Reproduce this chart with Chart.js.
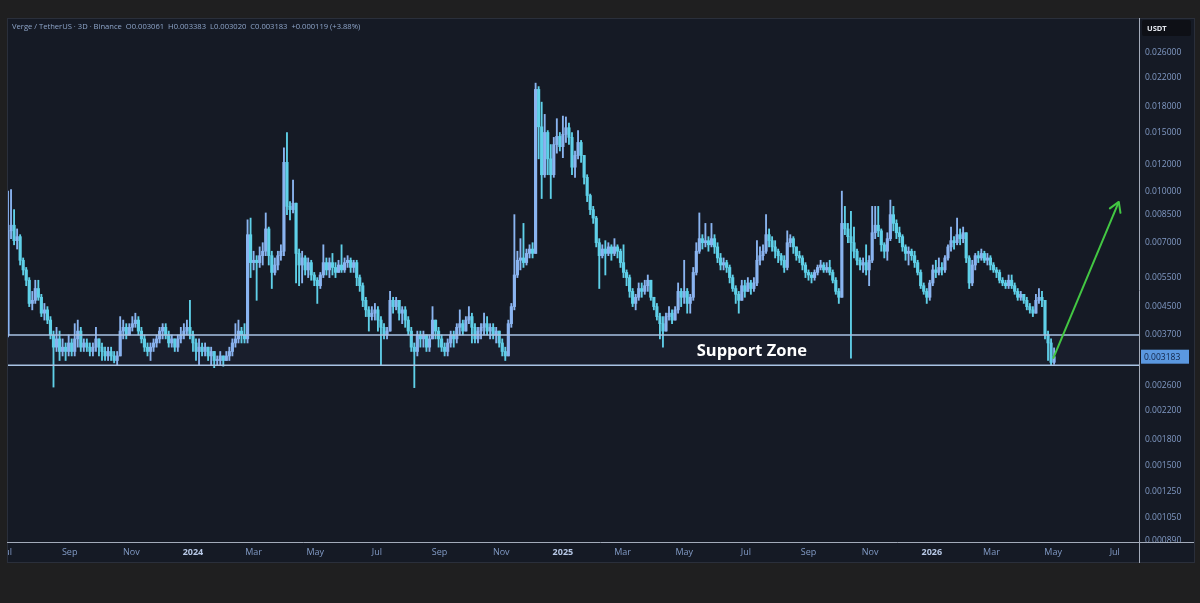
<!DOCTYPE html>
<html>
<head>
<meta charset="utf-8">
<script src="https://cdn.jsdelivr.net/npm/chart.js@4.4.1/dist/chart.umd.min.js"></script>
<style>
  html, body { margin: 0; padding: 0; background: #1f1f20; }
  canvas { display: block; }
</style>
</head>
<body>
<canvas id="chart" width="1200" height="603"></canvas>
<script>
// XVG/USDT 3D candles, days counted from 1 Jul 2023
const startDay = 1;
const candleDays = 3;
const firstOpen = 0.0037;

const closes = [
  0.0076, 0.0079, 0.0071, 0.0073, 0.0062, 0.0058, 0.0054, 0.0046, 0.0047, 0.0051,
  0.0048, 0.0043, 0.0044, 0.0041, 0.0037, 0.0034, 0.0036, 0.0033, 0.0034, 0.0033,
  0.0035, 0.0033, 0.0036, 0.0038, 0.0034, 0.0035, 0.0034, 0.0033, 0.0034, 0.0036,
  0.0034, 0.0033, 0.0032, 0.0033, 0.0032, 0.0031, 0.0032, 0.0038, 0.0039, 0.0037,
  0.0039, 0.0040, 0.0041, 0.0038, 0.0036, 0.0034, 0.0033, 0.0034, 0.0035, 0.0036,
  0.0038, 0.0039, 0.0037, 0.0035, 0.0036, 0.0034, 0.0036, 0.0037, 0.0038, 0.0039,
  0.0037, 0.0035, 0.0033, 0.0034, 0.0033, 0.0034, 0.0032, 0.0033, 0.0031, 0.0031,
  0.0032, 0.0031, 0.0032, 0.0033, 0.0035, 0.0036, 0.0038, 0.0037, 0.0036, 0.0074,
  0.0061, 0.0062, 0.0061, 0.0064, 0.0066, 0.0077, 0.0064, 0.0057, 0.0060, 0.0064,
  0.0066, 0.0122, 0.0090, 0.0088, 0.0092, 0.0065, 0.0060, 0.0063, 0.0058, 0.0061,
  0.0056, 0.0054, 0.0052, 0.0056, 0.0061, 0.0058, 0.0061, 0.0059, 0.0057, 0.0060,
  0.0058, 0.0061, 0.0062, 0.0059, 0.0061, 0.0055, 0.0052, 0.0047, 0.0044, 0.0042,
  0.0043, 0.0044, 0.0041, 0.0039, 0.0037, 0.0038, 0.0047, 0.0045, 0.0047, 0.0043,
  0.0044, 0.0041, 0.0038, 0.0034, 0.0033, 0.0037, 0.0036, 0.0037, 0.0034, 0.0036,
  0.0041, 0.0038, 0.0036, 0.0034, 0.0033, 0.0035, 0.0037, 0.0036, 0.0039, 0.0040,
  0.0038, 0.0041, 0.0042, 0.0039, 0.0036, 0.0038, 0.0039, 0.0040, 0.0038, 0.0039,
  0.0037, 0.0038, 0.0035, 0.0033, 0.0032, 0.0040, 0.0045, 0.0056, 0.0062, 0.0063,
  0.0061, 0.0065, 0.0067, 0.0065, 0.0202, 0.0156, 0.0112, 0.0150, 0.0125, 0.0112,
  0.0138, 0.0146, 0.0136, 0.0148, 0.0155, 0.0145, 0.0118, 0.0128, 0.0140, 0.0128,
  0.0110, 0.0097, 0.0088, 0.0083, 0.0070, 0.0064, 0.0067, 0.0065, 0.0068, 0.0065,
  0.0068, 0.0066, 0.0061, 0.0057, 0.0055, 0.0050, 0.0046, 0.0048, 0.0051, 0.0050,
  0.0052, 0.0054, 0.0048, 0.0045, 0.0042, 0.0040, 0.0038, 0.0042, 0.0043, 0.0041,
  0.0044, 0.0050, 0.0048, 0.0050, 0.0046, 0.0048, 0.0057, 0.0066, 0.0072, 0.0070,
  0.0071, 0.0069, 0.0072, 0.0068, 0.0063, 0.0060, 0.0061, 0.0059, 0.0055, 0.0051,
  0.0049, 0.0047, 0.0052, 0.0050, 0.0053, 0.0051, 0.0053, 0.0062, 0.0064, 0.0066,
  0.0074, 0.0071, 0.0068, 0.0066, 0.0064, 0.0062, 0.0059, 0.0070, 0.0072, 0.0068,
  0.0064, 0.0063, 0.0060, 0.0057, 0.0056, 0.0055, 0.0057, 0.0059, 0.0060, 0.0058,
  0.0059, 0.0057, 0.0054, 0.0050, 0.0048, 0.0080, 0.0077, 0.0073, 0.0070, 0.0066,
  0.0062, 0.0060, 0.0061, 0.0058, 0.0062, 0.0075, 0.0079, 0.0076, 0.0069, 0.0066,
  0.0072, 0.0085, 0.0080, 0.0075, 0.0073, 0.0068, 0.0065, 0.0066, 0.0064, 0.0061,
  0.0057, 0.0052, 0.0050, 0.0048, 0.0053, 0.0058, 0.0057, 0.0059, 0.0058, 0.0063,
  0.0068, 0.0071, 0.0070, 0.0074, 0.0072, 0.0075, 0.0063, 0.0053, 0.0060, 0.0064,
  0.0063, 0.0065, 0.0062, 0.0063, 0.0060, 0.0058, 0.0057, 0.0054, 0.0053, 0.0052,
  0.0054, 0.0052, 0.0050, 0.0048, 0.0049, 0.0047, 0.0045, 0.0044, 0.0043, 0.0047,
  0.0048, 0.0047, 0.0037, 0.0035, 0.003061, 0.003183
];

const highs = [
  0.0100, 0.0101, 0.0088, 0.0077, 0.0074, 0.0063, 0.0059, 0.0055, 0.0050, 0.0054,
  0.0054, 0.0049, 0.0046, 0.0045, 0.0042, 0.0038, 0.0039, 0.0038, 0.0036, 0.0035,
  0.0037, 0.0036, 0.0040, 0.0041, 0.0039, 0.0036, 0.0036, 0.0035, 0.0035, 0.0039,
  0.0036, 0.0035, 0.0034, 0.0034, 0.0034, 0.0033, 0.0033, 0.0042, 0.0041, 0.0040,
  0.0040, 0.0042, 0.0043, 0.0042, 0.0039, 0.0037, 0.0035, 0.0035, 0.0036, 0.0037,
  0.0039, 0.0040, 0.0040, 0.0038, 0.0037, 0.0036, 0.0037, 0.0039, 0.0040, 0.0041,
  0.0047, 0.0038, 0.0036, 0.0036, 0.0035, 0.0035, 0.0034, 0.0034, 0.0033, 0.0032,
  0.0033, 0.0032, 0.0033, 0.0034, 0.0036, 0.0040, 0.0041, 0.0039, 0.0040, 0.0082,
  0.0083, 0.0066, 0.0064, 0.0068, 0.0070, 0.0086, 0.0078, 0.0066, 0.0063, 0.0066,
  0.0069, 0.0135, 0.0150, 0.0093, 0.0108, 0.0092, 0.0067, 0.0066, 0.0064, 0.0063,
  0.0062, 0.0057, 0.0055, 0.0057, 0.0069, 0.0063, 0.0063, 0.0065, 0.0061, 0.0062,
  0.0069, 0.0063, 0.0064, 0.0063, 0.0062, 0.0062, 0.0056, 0.0053, 0.0048, 0.0045,
  0.0045, 0.0046, 0.0045, 0.0042, 0.0040, 0.0039, 0.0050, 0.0048, 0.0048, 0.0047,
  0.0045, 0.0045, 0.0042, 0.0039, 0.0035, 0.0038, 0.0038, 0.0038, 0.0037, 0.0037,
  0.0045, 0.0041, 0.0039, 0.0037, 0.0035, 0.0036, 0.0038, 0.0038, 0.0040, 0.0044,
  0.0041, 0.0042, 0.0045, 0.0043, 0.0040, 0.0039, 0.0040, 0.0043, 0.0042, 0.0040,
  0.0040, 0.0039, 0.0038, 0.0036, 0.0034, 0.0041, 0.0046, 0.0085, 0.0066, 0.0072,
  0.0080, 0.0067, 0.0069, 0.0070, 0.0211, 0.0206, 0.0185, 0.0170, 0.0152, 0.0138,
  0.0145, 0.0165, 0.0150, 0.0168, 0.0167, 0.0160, 0.0150, 0.0132, 0.0152, 0.0142,
  0.0128, 0.0112, 0.0098, 0.0090, 0.0084, 0.0072, 0.0069, 0.0071, 0.0070, 0.0069,
  0.0072, 0.0069, 0.0067, 0.0069, 0.0058, 0.0056, 0.0051, 0.0049, 0.0053, 0.0053,
  0.0054, 0.0056, 0.0054, 0.0048, 0.0046, 0.0043, 0.0042, 0.0043, 0.0045, 0.0044,
  0.0045, 0.0053, 0.0051, 0.0062, 0.0051, 0.0049, 0.0059, 0.0070, 0.0086, 0.0074,
  0.0080, 0.0073, 0.0080, 0.0074, 0.0070, 0.0065, 0.0063, 0.0062, 0.0060, 0.0056,
  0.0052, 0.0050, 0.0054, 0.0054, 0.0055, 0.0054, 0.0055, 0.0071, 0.0068, 0.0069,
  0.0085, 0.0077, 0.0073, 0.0071, 0.0067, 0.0065, 0.0064, 0.0076, 0.0074, 0.0073,
  0.0068, 0.0066, 0.0064, 0.0061, 0.0058, 0.0057, 0.0058, 0.0060, 0.0062, 0.0061,
  0.0061, 0.0062, 0.0058, 0.0055, 0.0051, 0.0100, 0.0090, 0.0080, 0.0087, 0.0078,
  0.0067, 0.0063, 0.0063, 0.0069, 0.0064, 0.0090, 0.0090, 0.0090, 0.0077, 0.0070,
  0.0075, 0.0094, 0.0090, 0.0082, 0.0078, 0.0074, 0.0069, 0.0068, 0.0067, 0.0066,
  0.0062, 0.0058, 0.0053, 0.0051, 0.0054, 0.0060, 0.0062, 0.0063, 0.0061, 0.0064,
  0.0069, 0.0078, 0.0073, 0.0083, 0.0077, 0.0078, 0.0075, 0.0064, 0.0062, 0.0065,
  0.0066, 0.0067, 0.0066, 0.0065, 0.0064, 0.0061, 0.0059, 0.0058, 0.0055, 0.0054,
  0.0056, 0.0056, 0.0053, 0.0051, 0.0050, 0.0049, 0.0048, 0.0046, 0.0045, 0.0049,
  0.0051, 0.0050, 0.0047, 0.0038, 0.0036, 0.003383
];

const lows = [
  0.00365, 0.0072, 0.0069, 0.0067, 0.0060, 0.0056, 0.0052, 0.0045, 0.0044, 0.0046,
  0.0047, 0.0042, 0.0041, 0.0040, 0.0036, 0.00258, 0.0033, 0.0031, 0.0032, 0.0031,
  0.0032, 0.0032, 0.0032, 0.0034, 0.0033, 0.0033, 0.0033, 0.0032, 0.0032, 0.0033,
  0.0032, 0.0031, 0.0031, 0.0031, 0.0031, 0.00305, 0.0030, 0.0032, 0.0036, 0.0036,
  0.0037, 0.0038, 0.0039, 0.0037, 0.0035, 0.0033, 0.0032, 0.0031, 0.0033, 0.0034,
  0.0035, 0.0036, 0.0036, 0.0034, 0.0034, 0.0033, 0.0033, 0.0035, 0.0036, 0.0037,
  0.0036, 0.0033, 0.0031, 0.0030, 0.0032, 0.0032, 0.0031, 0.0030, 0.00295, 0.0030,
  0.0030, 0.00298, 0.0031, 0.0031, 0.0032, 0.0034, 0.0035, 0.0035, 0.0035, 0.0035,
  0.0055, 0.0058, 0.0047, 0.0059, 0.0060, 0.0064, 0.0060, 0.0051, 0.0056, 0.0058,
  0.0062, 0.0064, 0.0085, 0.0082, 0.0086, 0.0053, 0.0052, 0.0053, 0.0056, 0.0055,
  0.0054, 0.0052, 0.0046, 0.0051, 0.0055, 0.0056, 0.0055, 0.0056, 0.0055, 0.0057,
  0.0057, 0.0057, 0.0059, 0.0057, 0.0057, 0.0052, 0.0050, 0.0045, 0.0042, 0.0038,
  0.0041, 0.0041, 0.0038, 0.0030, 0.0036, 0.0036, 0.0038, 0.0043, 0.0044, 0.0041,
  0.0040, 0.0039, 0.0037, 0.0033, 0.00257, 0.0032, 0.0034, 0.0034, 0.0033, 0.0033,
  0.0036, 0.0036, 0.0034, 0.0033, 0.0032, 0.0032, 0.0034, 0.0034, 0.0035, 0.0037,
  0.0037, 0.0038, 0.0040, 0.0035, 0.0035, 0.0035, 0.0036, 0.0037, 0.0037, 0.0036,
  0.0036, 0.0035, 0.0034, 0.0032, 0.0031, 0.0032, 0.0039, 0.0044, 0.0055, 0.0058,
  0.0059, 0.0060, 0.0063, 0.0063, 0.0065, 0.0125, 0.0095, 0.0110, 0.0112, 0.0095,
  0.0110, 0.0130, 0.0132, 0.0126, 0.0140, 0.0138, 0.0112, 0.0110, 0.0125, 0.0122,
  0.0105, 0.0093, 0.0085, 0.0080, 0.0068, 0.0051, 0.0063, 0.0056, 0.0064, 0.0062,
  0.0064, 0.0063, 0.0059, 0.0055, 0.0052, 0.0048, 0.0045, 0.0044, 0.0047, 0.0048,
  0.0049, 0.0050, 0.0047, 0.0044, 0.0041, 0.0036, 0.0034, 0.0038, 0.0041, 0.0040,
  0.0041, 0.0043, 0.0045, 0.0046, 0.0043, 0.0043, 0.0047, 0.0056, 0.0065, 0.0067,
  0.0068, 0.0066, 0.0068, 0.0065, 0.0061, 0.0058, 0.0058, 0.0057, 0.0053, 0.0050,
  0.0046, 0.0043, 0.0047, 0.0048, 0.0050, 0.0049, 0.0050, 0.0052, 0.0060, 0.0062,
  0.0065, 0.0068, 0.0066, 0.0063, 0.0061, 0.0060, 0.0057, 0.0058, 0.0068, 0.0065,
  0.0062, 0.0061, 0.0058, 0.0055, 0.0054, 0.0053, 0.0054, 0.0056, 0.0058, 0.0057,
  0.0057, 0.0056, 0.0053, 0.0049, 0.0046, 0.0048, 0.0074, 0.0070, 0.00315, 0.0063,
  0.0060, 0.0058, 0.0057, 0.0056, 0.0052, 0.0061, 0.0072, 0.0073, 0.0066, 0.0063,
  0.0062, 0.0071, 0.0076, 0.0072, 0.0070, 0.0066, 0.0062, 0.0060, 0.0062, 0.0059,
  0.0056, 0.0051, 0.0049, 0.0046, 0.0047, 0.0052, 0.0055, 0.0056, 0.0056, 0.0057,
  0.0062, 0.0066, 0.0067, 0.0069, 0.0069, 0.0070, 0.0061, 0.0051, 0.0052, 0.0058,
  0.0061, 0.0062, 0.0061, 0.0060, 0.0058, 0.0057, 0.0055, 0.0053, 0.0052, 0.0051,
  0.0051, 0.0051, 0.0049, 0.0047, 0.0047, 0.0046, 0.0044, 0.0043, 0.0042, 0.0043,
  0.0046, 0.0045, 0.0036, 0.0031, 0.0030, 0.003020
];

// each candle opens at the previous close
const opens = closes.map((c, i) => (i === 0 ? firstOpen : closes[i - 1]));
const days = closes.map((c, i) => startDay + i * candleDays);

const monthDays = [0, 62, 123, 184, 244, 305, 366, 428, 489, 550, 609, 670, 731, 793, 854, 915, 974, 1035, 1096];
const monthLabels = ['Jul', 'Sep', 'Nov', '2024', 'Mar', 'May', 'Jul', 'Sep', 'Nov', '2025', 'Mar', 'May', 'Jul', 'Sep', 'Nov', '2026', 'Mar', 'May', 'Jul'];
const priceTicks = [0.026, 0.022, 0.018, 0.015, 0.012, 0.010, 0.0085, 0.007, 0.0055, 0.0045, 0.0037, 0.0026, 0.0022, 0.0018, 0.0015, 0.00125, 0.00105, 0.00089];
const supportZone = [0.0030, 0.0037];
const arrowDays = [1035, 1100];
const arrowPrices = [0.00314, 0.00928];

const titleText = 'Verge / TetherUS · 3D · Binance  O0.003061  H0.003383  L0.003020  C0.003183  +0.000119 (+3.88%)';
const upColor = '#8ab4f0';
const downColor = '#5fd0e8';
const FONT = "'Open Sans', 'Noto Sans', sans-serif";

Chart.defaults.font.family = FONT;

const candleColor = ctx => (closes[ctx.dataIndex] >= opens[ctx.dataIndex] ? upColor : downColor);

const frame = {
  id: 'frame',
  beforeDraw(chart) {
    const { ctx, chartArea } = chart;
    const xs = chart.scales.x;
    ctx.save();
    ctx.fillStyle = '#1f1f20';
    ctx.fillRect(0, 0, chart.width, chart.height);
    ctx.fillStyle = '#151a25';
    ctx.fillRect(chartArea.left, chartArea.top, chart.width - 5 - chartArea.left, xs.bottom - chartArea.top);
    ctx.restore();
  },
  afterDatasetsDraw(chart) {
    const { ctx } = chart;
    const xs = chart.scales.x;
    const ys = chart.scales.y;

    // arrow head on the projection line
    const pts = chart.getDatasetMeta(4).data;
    const a = pts[0], b = pts[1];
    const ang = Math.atan2(b.y - a.y, b.x - a.x);
    ctx.save();
    ctx.strokeStyle = '#43c743';
    ctx.lineWidth = 2;
    ctx.lineCap = 'round';
    ctx.beginPath();
    [0.55, -0.55].forEach(d => {
      ctx.moveTo(b.x, b.y);
      ctx.lineTo(b.x - 11 * Math.cos(ang + d), b.y - 11 * Math.sin(ang + d));
    });
    ctx.stroke();

    // zone label
    ctx.fillStyle = '#ffffff';
    ctx.font = 'bold 16.5px ' + FONT;
    ctx.textAlign = 'center';
    ctx.textBaseline = 'middle';
    ctx.fillText('Support Zone', xs.getPixelForValue(737), ys.getPixelForValue(0.00331));
    ctx.restore();
  },
  afterDraw(chart) {
    const { ctx, chartArea } = chart;
    const xs = chart.scales.x;
    const ys = chart.scales.y;
    ctx.save();
    // hide the part of the first month label outside the pane
    ctx.fillStyle = '#1f1f20';
    ctx.fillRect(0, 0, chartArea.left, chart.height);

    ctx.strokeStyle = '#2a2f3b';
    ctx.lineWidth = 1;
    ctx.strokeRect(chartArea.left + 0.5, chartArea.top + 0.5, chart.width - 5 - chartArea.left - 1, xs.bottom - chartArea.top - 1);

    ctx.strokeStyle = '#a3abba';
    ctx.beginPath();
    ctx.moveTo(chartArea.right + 0.5, chartArea.top);
    ctx.lineTo(chartArea.right + 0.5, xs.bottom);
    ctx.moveTo(chartArea.left, chartArea.bottom + 0.5);
    ctx.lineTo(chart.width - 6, chartArea.bottom + 0.5);
    ctx.stroke();

    // legend line
    ctx.fillStyle = '#8ea5c9';
    ctx.font = '7.6px ' + FONT;
    ctx.textAlign = 'left';
    ctx.textBaseline = 'middle';
    ctx.fillText(titleText, 12, 27);

    // currency box
    ctx.fillStyle = '#0e1016';
    ctx.beginPath();
    ctx.roundRect(chartArea.right + 3, 20, 49, 16, 2);
    ctx.fill();
    ctx.fillStyle = '#e6e9ef';
    ctx.font = 'bold 7.5px ' + FONT;
    ctx.fillText('USDT', chartArea.right + 8, 28.5);

    // last price tag
    const last = closes[closes.length - 1];
    const py = ys.getPixelForValue(last);
    ctx.fillStyle = '#5b98e0';
    ctx.fillRect(chartArea.right + 2, py - 7, 48, 14);
    ctx.fillStyle = '#112446';
    ctx.font = '8.5px ' + FONT;
    ctx.fillText(last.toFixed(6), chartArea.right + 5, py + 0.5);
    ctx.restore();
  }
};

new Chart(document.getElementById('chart'), {
  type: 'bar',
  data: {
    datasets: [
      {
        label: 'wicks',
        data: days.map((d, i) => ({ x: d, y: [lows[i], highs[i]] })),
        backgroundColor: candleColor,
        barThickness: 1.2,
        grouped: false,
        order: 3
      },
      {
        label: 'bodies',
        data: days.map((d, i) => ({ x: d, y: [opens[i], closes[i]] })),
        backgroundColor: candleColor,
        barThickness: 2.5,
        minBarLength: 1,
        grouped: false,
        order: 2
      },
      {
        type: 'line',
        label: 'zone low',
        data: [{ x: 0, y: supportZone[0] }, { x: 1120, y: supportZone[0] }],
        borderColor: '#a9c3e4',
        borderWidth: 1.5,
        pointRadius: 0,
        fill: false,
        order: 1
      },
      {
        type: 'line',
        label: 'zone high',
        data: [{ x: 0, y: supportZone[1] }, { x: 1120, y: supportZone[1] }],
        borderColor: '#a9c3e4',
        borderWidth: 1.5,
        pointRadius: 0,
        fill: '-1',
        backgroundColor: 'rgba(110, 150, 210, 0.045)',
        order: 1
      },
      {
        type: 'line',
        label: 'projection',
        data: arrowDays.map((d, i) => ({ x: d, y: arrowPrices[i] })),
        borderColor: '#43c743',
        borderWidth: 2,
        pointRadius: 0,
        fill: false,
        order: 0
      }
    ]
  },
  options: {
    responsive: false,
    animation: false,
    events: [],
    layout: { padding: { left: 7, top: 18, right: 5, bottom: 40 } },
    plugins: {
      legend: { display: false },
      tooltip: { enabled: false }
    },
    scales: {
      x: {
        type: 'linear',
        min: 0,
        max: 1120,
        offset: false,
        grid: { display: false, drawTicks: false },
        border: { display: false },
        afterBuildTicks: scale => { scale.ticks = monthDays.map(v => ({ value: v })); },
        afterFit: scale => { scale.height = 21; scale.paddingLeft = 0; scale.paddingRight = 0; },
        ticks: {
          autoSkip: false,
          maxRotation: 0,
          padding: 5,
          callback: (v, i) => monthLabels[i],
          color: ctx => (/^\d{4}$/.test(monthLabels[ctx.index]) ? '#b7c8e6' : '#829bc6'),
          font: ctx => ({ size: 9, weight: /^\d{4}$/.test(monthLabels[ctx.index]) ? 'bold' : 'normal' })
        }
      },
      y: {
        type: 'logarithmic',
        position: 'right',
        min: 0.000884,
        max: 0.0331,
        grid: { display: false, drawTicks: false },
        border: { display: false },
        afterBuildTicks: scale => { scale.ticks = priceTicks.map(v => ({ value: v })); },
        afterFit: scale => { scale.width = 56; scale.paddingTop = 0; scale.paddingBottom = 0; },
        ticks: {
          autoSkip: false,
          padding: 6,
          color: '#829bc6',
          font: { size: 8.5 },
          callback: v => Number(v).toFixed(6)
        }
      }
    }
  },
  plugins: [frame]
});
</script>
</body>
</html>
